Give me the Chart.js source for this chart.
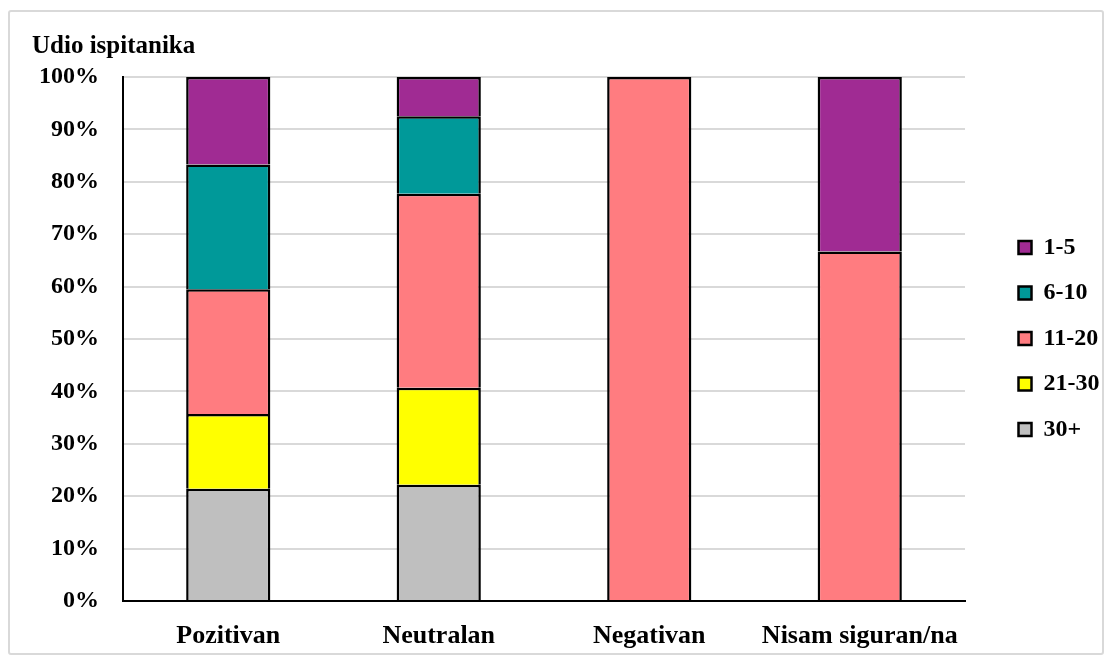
<!DOCTYPE html>
<html>
<head>
<meta charset="utf-8">
<script src="https://cdn.jsdelivr.net/npm/chart.js@4"></script>
<style>
  body { margin: 0; background: #fff; }
  #box {
    position: absolute; left: 8px; top: 10px;
    width: 1092px; height: 641px;
    border: 2px solid #d9d9d9; border-radius: 3px;
  }
</style>
</head>
<body>
<div id="box"><canvas id="udioChart" width="1092" height="641"></canvas></div>
<script>
// kategorije stava i udio ispitanika (%) po skupinama
const categories = ['Pozitivan', 'Neutralan', 'Negativan', 'Nisam siguran/na'];
const group30plus = [21.4, 22.2, null, null];
const group21_30 = [14.3, 18.5, null, null];
const group11_20 = [23.8, 37.0, 100, 66.7];
const group6_10 = [23.8, 14.8, null, null];
const group1_5 = [16.7, 7.5, null, 33.3];
const yTicks = [0, 10, 20, 30, 40, 50, 60, 70, 80, 90, 100];

const serif = "'Liberation Serif', 'Times New Roman', serif";

const mkSet = (label, data, color) => ({
  label: label,
  data: data,
  backgroundColor: color,
  borderColor: '#000',
  borderWidth: 2.5,
  barPercentage: 0.8,
  categoryPercentage: 0.5
});

// legend sits further right of the plot than chart.js puts it by default
const legendGap = {
  id: 'legendGap',
  beforeLayout(chart) {
    const lg = chart.legend;
    if (lg && !lg._wrapped) {
      const fit = lg.fit;
      lg.fit = function () { fit.call(this); this.width = 137; };
      lg._wrapped = true;
    }
  },
  afterLayout(chart) {
    chart.legend.left += 32;
    chart.legend.top += 12;
  }
};

const ctx = document.getElementById('udioChart');

new Chart(ctx, {
  type: 'bar',
  data: {
    labels: categories,
    datasets: [
      mkSet('30+', group30plus, '#bfbfbf'),
      mkSet('21-30', group21_30, '#ffff00'),
      mkSet('11-20', group11_20, '#ff7c80'),
      mkSet('6-10', group6_10, '#009999'),
      mkSet('1-5', group1_5, '#a02b93')
    ]
  },
  options: {
    responsive: false,
    animation: false,
    layout: { padding: { left: 22, right: 0, top: 0, bottom: 0 } },
    plugins: {
      tooltip: { enabled: false },
      title: {
        display: true,
        text: 'Udio ispitanika',
        align: 'start',
        color: '#000',
        font: { family: serif, size: 25, weight: 'bold' },
        padding: { top: 20, bottom: 15 }
      },
      legend: {
        position: 'right',
        reverse: true,
        labels: {
          color: '#000',
          boxWidth: 13,
          boxHeight: 13,
          padding: 21.5,
          font: { family: serif, size: 24, weight: 'bold' }
        }
      }
    },
    scales: {
      x: {
        stacked: true,
        afterFit: (scale) => { scale.height = 52; },
        grid: { display: false, drawTicks: false },
        border: { color: '#000', width: 2 },
        ticks: {
          color: '#000',
          padding: 20,
          font: { family: serif, size: 26, weight: 'bold' }
        }
      },
      y: {
        stacked: true,
        min: 0,
        max: 100,
        afterFit: (scale) => { scale.width = 91; },
        afterBuildTicks: (scale) => { scale.ticks = yTicks.map(v => ({ value: v })); },
        grid: { color: '#d9d9d9', lineWidth: 2, drawTicks: false },
        border: { color: '#000', width: 2 },
        ticks: {
          color: '#000',
          padding: 24,
          callback: (v) => v + '%',
          font: { family: serif, size: 24, weight: 'bold' }
        }
      }
    }
  },
  plugins: [legendGap]
});
</script>
</body>
</html>
